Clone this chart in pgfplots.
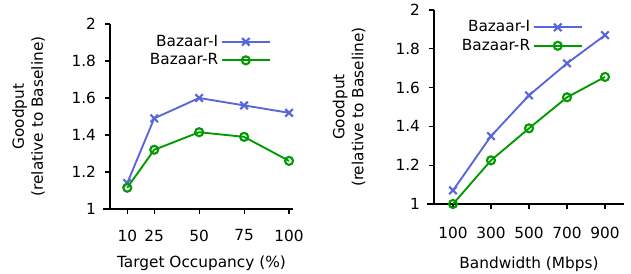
\documentclass[border=0pt]{standalone}
\usepackage{pgfplots}
\pgfplotsset{compat=1.18}
\usepackage{fontspec}
\setmainfont{DejaVu Sans}
\definecolor{cI}{RGB}{88,102,218}
\definecolor{cR}{RGB}{0,155,0}
\pgfplotsset{
  myaxis/.style={
    scale only axis,
    axis x line=bottom, axis y line=left,
    axis line style={-, line width=0.9pt},
    x axis line style={shorten <=-5pt},
    tick style={line width=0.9pt, black},
    tick align=outside,
    major tick length=4pt,
    xtick pos=bottom, ytick pos=left,
    ymin=1, ymax=2, ytick={1,1.2,1.4,1.6,1.8,2},
    yticklabels={1,1.2,1.4,1.6,1.8,2},
    /pgf/number format/assume math mode=true,
    font=\fontsize{11.5}{14.3}\selectfont,
    tick label style={font=\fontsize{11.5}{13}\selectfont},
    yticklabel style={xshift=-3pt},
    ylabel={Goodput\\(relative to Baseline)},
    ylabel style={align=center, anchor=center, font=\fontsize{11.5}{14.3}\selectfont},
    xlabel style={font=\fontsize{11.5}{14}\selectfont},
    legend cell align=right,
    legend plot pos=right,
    legend style={draw=none, fill=none, inner sep=0pt, row sep=0pt,
      font=\fontsize{11.5}{13}\selectfont, anchor=north east},
    legend image code/.code={
      \draw[mark repeat=2, mark phase=2] plot coordinates {(0pt,0pt) (18pt,0pt) (36pt,0pt)};
    },
    sI/.style={cI, line width=1.4pt, mark=x, mark size=4pt, mark options={line width=1.6pt}},
    sR/.style={cR, line width=1.4pt, mark=o, mark size=3pt, mark options={line width=1.6pt}},
  }
}
\begin{document}
\begin{tikzpicture}
\useasboundingbox (0,0) rectangle (473.25pt,-205.5pt);
\begin{axis}[myaxis,
  at={(82.5pt,-156.75pt)}, anchor=south west,
  width=137.25pt, height=138.75pt,
  xmin=0.4, xmax=102.2,
  xtick={10,25,50,75,100},
  xticklabels={10,25,50,75,100},
  xticklabel style={yshift=-8pt},
  xlabel={Target Occupancy (\%)},
  xlabel style={at={(axis description cs:0.5,0)}, anchor=center, yshift=-40.5pt},
  y label style={at={(axis description cs:-0.445,0.5)}},
  legend style={at={(axis description cs:0.88,0.955)}},
]
\addplot[sI] coordinates {(10,1.14) (25,1.49) (50,1.60) (75,1.56) (100,1.52)};
\addlegendentry{Bazaar-I}
\addplot[sR] coordinates {(10,1.115) (25,1.32) (50,1.415) (75,1.39) (100,1.26)};
\addlegendentry{Bazaar-R}
\end{axis}
\begin{axis}[myaxis,
  at={(325.5pt,-153pt)}, anchor=south west,
  width=142.5pt, height=145.5pt,
  xmin=0, xmax=1000,
  xtick={100,300,500,700,900},
  xticklabels={100,300,500,700,900},
  xticklabel style={yshift=-10pt},
  xlabel={Bandwidth (Mbps)},
  xlabel style={at={(axis description cs:0.5,0)}, anchor=center, yshift=-45.5pt},
  y label style={at={(axis description cs:-0.447,0.5)}},
  legend style={at={(axis description cs:0.784,0.96)}},
]
\addplot[sI] coordinates {(100,1.07) (300,1.35) (500,1.56) (700,1.725) (900,1.87)};
\addlegendentry{Bazaar-I}
\addplot[sR] coordinates {(100,1.0) (300,1.225) (500,1.39) (700,1.55) (900,1.655)};
\addlegendentry{Bazaar-R}
\end{axis}
\end{tikzpicture}
\end{document}
